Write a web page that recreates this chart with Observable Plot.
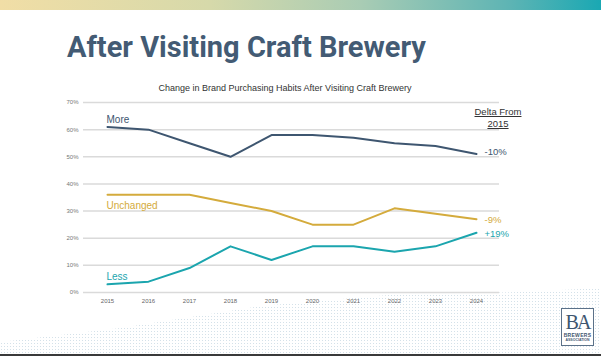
<!DOCTYPE html>
<html>
<head>
<meta charset="utf-8">
<script src="https://cdn.jsdelivr.net/npm/d3@7"></script>
<script src="https://cdn.jsdelivr.net/npm/@observablehq/plot@0.6"></script>
<style>
  html, body { margin: 0; padding: 0; background: #fff; }
  #page { position: relative; width: 601px; height: 356px; overflow: hidden; background: #fff; font-family: "Liberation Sans", Arial, sans-serif; }
  #bar { position: absolute; left: 0; top: 0; width: 601px; height: 10px;
         background: linear-gradient(90deg, #f1dea6 0%, #d6d9aa 35%, #a9ccb4 60%, #5db4b4 85%, #1aa8b3 100%); }
  #dots { position: absolute; left: 0; top: 0; width: 601px; height: 356px;
          background-image: radial-gradient(circle, #c9d9e3 0.7px, transparent 1px);
          background-size: 3px 3px; opacity: 0.8;
          clip-path: polygon(0 342px, 120px 328px, 260px 306px, 400px 294px, 520px 292px, 601px 288px, 601px 356px, 0 356px); }
  #bottom { position: absolute; left: 0; top: 354px; width: 601px; height: 2px; background: #3a3a3a; }
  #title { position: absolute; left: 67px; top: 33px; font-family: Roboto, "Liberation Sans", sans-serif; font-weight: 700;
           font-size: 29px; line-height: 29px; color: #435b74; letter-spacing: 0px; white-space: nowrap; }
  #subtitle { position: absolute; left: 0; width: 570px; top: 83px; text-align: center; font-size: 9px; line-height: 10px; color: #333; white-space: nowrap; }
  #delta { position: absolute; left: 468px; width: 60px; top: 106px; text-align: center; font-size: 9.5px; line-height: 12px; color: #333; text-decoration: underline; }
  #chart { position: absolute; left: 0; top: 0; }
  #logo { position: absolute; left: 561px; top: 308px; width: 31px; height: 36px; border: 1.5px solid #5b7189; background: #fff; text-align: center; color: #3e5670; }
  #logo .ba { font-family: "Liberation Serif", "DejaVu Serif", serif; font-size: 20px; line-height: 20px; letter-spacing: -2px; margin-top: 3px; }
  #logo .t1 { font-size: 5px; line-height: 6px; font-weight: 700; letter-spacing: 0.3px; }
  #logo .t2 { font-size: 3.5px; line-height: 5px; font-weight: 700; }
</style>
</head>
<body>
<div id="page">
  <div id="dots"></div>
  <div id="bar"></div>
  <div id="bottom"></div>
  <div id="title">After Visiting Craft Brewery</div>
  <div id="subtitle">Change in Brand Purchasing Habits After Visiting Craft Brewery</div>
  <div id="chart"></div>
  <div id="delta">Delta From<br>2015</div>
  <div id="logo"><div class="ba">BA</div><div class="t1">BREWERS</div><div class="t2">ASSOCIATION</div></div>
</div>
<script>
const years = [2015, 2016, 2017, 2018, 2019, 2020, 2021, 2022, 2023, 2024];
const more = [61, 60, 55, 50, 58, 58, 57, 55, 54, 51];
const unchanged = [36, 36, 36, 33, 30, 25, 25, 31, 29, 27];
const less = [3, 4, 9, 17, 12, 17, 17, 15, 17, 22];
const seriesNames = ["More", "Unchanged", "Less"];
const deltaLabels = ["-10%", "-9%", "+19%"];
const colors = ["#3e5670", "#d4ab3c", "#1ba5ae"];
const yTicks = [0, 10, 20, 30, 40, 50, 60, 70];

const seriesValues = [more, unchanged, less];
const rows = [];
seriesNames.forEach((s, i) => years.forEach((y, j) => rows.push({year: y, value: seriesValues[i][j] / 100, series: s})));
const firstRows = seriesNames.map((s, i) => ({year: years[0], value: seriesValues[i][0] / 100, series: s}));
const lastRows = seriesNames.map((s, i) => ({year: years[years.length - 1], value: seriesValues[i][years.length - 1] / 100, series: s, label: deltaLabels[i]}));
const nameDy = [-7, 11, -8];
const deltaDy = [-2, 1, 1];

const chart = Plot.plot({
  width: 601, height: 356,
  marginTop: 102, marginBottom: 64, marginLeft: 83, marginRight: 102,
  style: {background: "transparent", fontFamily: "'Liberation Sans', Arial, sans-serif", overflow: "visible"},
  x: {type: "point", domain: years, padding: 0.5, label: null},
  y: {domain: [0, 0.7], label: null},
  color: {domain: seriesNames, range: colors},
  marks: [
    Plot.gridY(yTicks.map(d => d / 100), {stroke: "#dadada", strokeOpacity: 1, strokeWidth: 1.5}),
    Plot.axisY(yTicks.map(d => d / 100), {tickSize: 0, tickPadding: 5, tickFormat: d3.format(".0%"), fontSize: 6, fill: "#777", label: null}),
    Plot.axisX(years, {tickSize: 0, tickPadding: 6, tickFormat: d => String(d), fontSize: 6, fill: "#666", label: null}),
    Plot.line(rows, {x: "year", y: "value", z: "series", stroke: "series", strokeWidth: 2}),
    ...firstRows.map((r, i) => Plot.text([r], {x: "year", y: "value", text: "series", fill: colors[i], fontSize: 10, textAnchor: "start", dx: -1, dy: nameDy[i]})),
    ...lastRows.map((r, i) => Plot.text([r], {x: "year", y: "value", text: "label", fill: colors[i], fontSize: 9.5, textAnchor: "start", dx: 8, dy: deltaDy[i]}))
  ]
});
document.getElementById("chart").appendChild(chart);
</script>
</body>
</html>
